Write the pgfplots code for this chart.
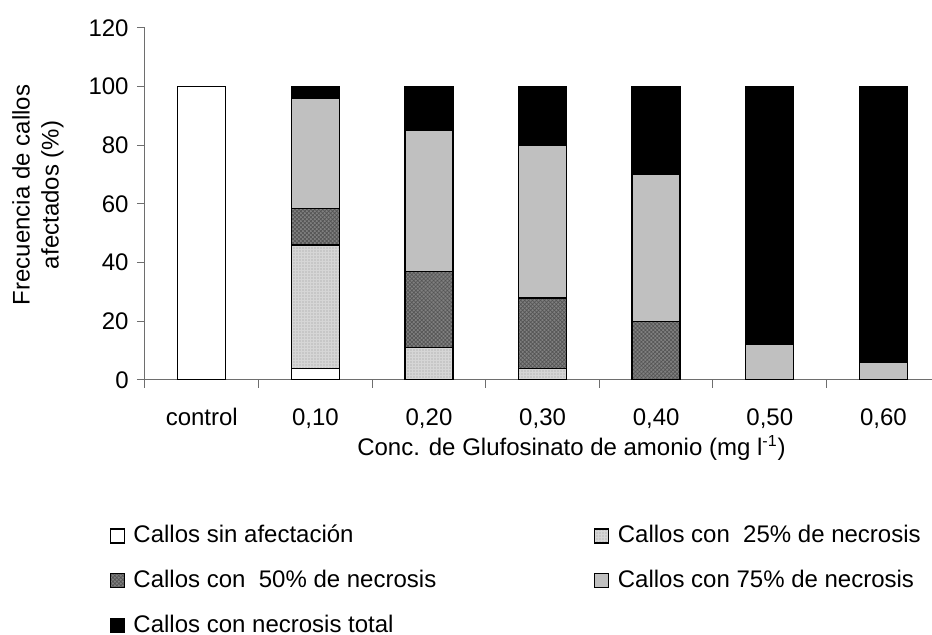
\documentclass[12pt,border=0pt]{standalone}
\usepackage{fontspec}
\setmainfont{Liberation Sans}
\usepackage{pgfplots}
\usepackage{pgfplotstable}
\pgfplotsset{compat=1.18}
\usetikzlibrary{patterns.meta}
\definecolor{dotfill}{RGB}{214,214,214}
\definecolor{dotcol}{RGB}{150,150,150}
\definecolor{hatchfill}{RGB}{128,128,128}
\definecolor{hatchcol}{RGB}{85,85,85}
\definecolor{lgray}{RGB}{192,192,192}
\definecolor{axgray}{RGB}{110,110,110}

\pgfplotstableread{
x sin p25 p50 p75 tot
0 100 0 0 0 0
1 4 42 12.5 37.5 4
2 0 11 26 48 15
3 0 4 24 52 20
4 0 0 20 50 30
5 0 0 0 12 88
6 0 0 0 6 94
}\data

\pgfplotsset{mybox/.style={legend image code/.code={\draw[##1] (0pt,-3pt) rectangle (7pt,4pt);}}}

\begin{document}
\begin{tikzpicture}
\useasboundingbox (0,0) rectangle (466pt,317.5pt);
\begin{axis}[
  at={(72.5pt,127.5pt)}, anchor=south west,
  scale only axis, width=393.5pt, height=176pt,
  ybar stacked, bar width=24pt,
  xmin=-0.5, xmax=6.428, ymin=0, ymax=120,
  axis lines=left,
  axis line style={-, draw=axgray, line width=0.5pt},
  ytick={0,20,...,120},
  xtick={0,...,6},
  xticklabels={control,{0,10},{0,20},{0,30},{0,40},{0,50},{0,60}},
  xticklabel style={yshift=-6pt},
  minor xtick={-0.5,0.5,...,5.5},
  tick align=outside, major tick length=4pt, minor tick length=4pt,
  tick style={draw=axgray, line width=0.5pt},
  major x tick style={draw=none},
  /pgf/number format/assume math mode=true,
  xlabel={Conc. de Glufosinato de amonio (mg l\textsuperscript{-1})},
  xlabel style={at={(axis description cs:0.5419,-0.2131)}, anchor=base},
  ylabel={Frecuencia de callos\\afectados (\%)},
  ylabel style={align=center, at={(axis description cs:-0.136,0.5256)}, anchor=center},
  every axis plot/.append style={draw=black, line width=0.7pt},
  legend columns=2,
  legend cell align=left,
  legend style={at={(axis description cs:-0.04536,-0.4105)}, anchor=north west,
    draw=none, fill=none, inner sep=0pt,
    nodes={inner sep=0pt, text height=9pt, text depth=3pt},
    row sep=10.35pt,
    /tikz/every odd column/.append style={column sep=4.2pt},
    /tikz/every even column/.append style={column sep=30.3pt}},
]
\addplot[fill=white, mybox] table[x=x,y=sin]{\data};
\addlegendentry{\makebox[200pt][l]{Callos sin afectación}}
\addplot[fill=dotfill, postaction={pattern={Dots[distance=1.5pt,radius=0.3pt]}, pattern color=dotcol}, mybox] table[x=x,y=p25]{\data};
\addlegendentry{Callos con~ 25\% de necrosis}
\addplot[fill=hatchfill, postaction={pattern={Hatch[distance=1.4pt,angle=45,line width=0.35pt]}, pattern color=hatchcol}, mybox] table[x=x,y=p50]{\data};
\addlegendentry{\makebox[200pt][l]{Callos con~ 50\% de necrosis}}
\addplot[fill=lgray, mybox] table[x=x,y=p75]{\data};
\addlegendentry{Callos con 75\% de necrosis}
\addplot[fill=black, mybox] table[x=x,y=tot]{\data};
\addlegendentry{\makebox[200pt][l]{Callos con necrosis total}}
\end{axis}
\end{tikzpicture}
\end{document}
